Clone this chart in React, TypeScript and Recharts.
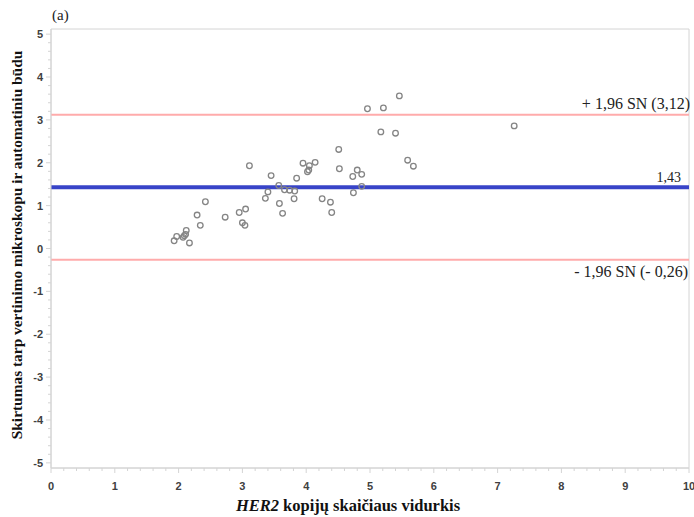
import { ScatterChart, Scatter, XAxis, YAxis, ReferenceLine, ReferenceArea } from "recharts";

const X_MAJOR = [0, 1, 2, 3, 4, 5, 6, 7, 8, 9, 10];
const Y_MAJOR = [-5, -4, -3, -2, -1, 0, 1, 2, 3, 4, 5];

const MEAN_DIFF = 1.43;
const UPPER_LOA = 3.12;
const LOWER_LOA = -0.26;

// HER2 copy number mean (x) vs. difference between methods (y)
const MEAN_X = [
  1.93, 1.97, 2.07, 2.09, 2.11, 2.12, 2.17, 2.29, 2.34, 2.42,
  2.73, 2.95, 3.05, 3.0, 3.04, 3.11, 3.36, 3.4, 3.45, 3.57,
  3.58, 3.63, 3.66, 3.74, 3.82, 3.81, 3.85, 3.95, 4.02, 4.04,
  4.05, 4.14, 4.25, 4.38, 4.4, 4.51, 4.52, 4.73, 4.74, 4.8,
  4.87, 4.87, 4.96, 5.21, 5.46, 5.17, 5.4, 5.59, 5.68, 7.26,
];
const DIFF_Y = [
  0.18, 0.28, 0.26, 0.3, 0.33, 0.42, 0.13, 0.78, 0.54, 1.09,
  0.73, 0.84, 0.92, 0.6, 0.54, 1.93, 1.17, 1.32, 1.7, 1.47,
  1.05, 0.82, 1.37, 1.36, 1.34, 1.16, 1.64, 1.99, 1.79, 1.83,
  1.93, 2.01, 1.16, 1.08, 0.84, 2.31, 1.86, 1.68, 1.3, 1.83,
  1.73, 1.45, 3.26, 3.28, 3.56, 2.72, 2.69, 2.06, 1.92, 2.86,
];

const points = MEAN_X.map((x, i) => ({ x, y: DIFF_Y[i] }));

// major ticks plus 0.2 minor steps
const withMinor = (major: number[]) =>
  major
    .slice(0, -1)
    .flatMap((v) => [0, 0.2, 0.4, 0.6, 0.8].map((s) => Math.round((v + s) * 10) / 10))
    .concat(major[major.length - 1]);

const X_TICKS = withMinor(X_MAJOR);
const Y_TICKS = withMinor(Y_MAJOR);

const AXIS = "#d4d4d4";
const TICK_FONT = { fontFamily: "Liberation Sans, Arial, sans-serif", fontSize: 11, fontWeight: 700, fill: "#404040" };
const SERIF = "Liberation Serif, Times New Roman, serif";

function XTick({ x, y, payload }: any) {
  const major = Number.isInteger(payload.value);
  return (
    <g>
      <line x1={x} x2={x} y1={y} y2={y + (major ? 5 : 3)} stroke={AXIS} />
      {major && (
        <text x={x} y={y + 22} textAnchor="middle" {...TICK_FONT}>
          {payload.value}
        </text>
      )}
    </g>
  );
}

function YTick({ x, y, payload }: any) {
  const major = Number.isInteger(payload.value);
  return (
    <g>
      <line x1={x} x2={x - (major ? 5 : 3)} y1={y} y2={y} stroke={AXIS} />
      {major && (
        <text x={x - 8} y={y + 4} textAnchor="end" {...TICK_FONT}>
          {payload.value}
        </text>
      )}
    </g>
  );
}

function LineLabel({ viewBox, text, dx = 0, dy = 0, size = 16 }: any) {
  if (!viewBox) return null;
  return (
    <text
      x={viewBox.x + viewBox.width + dx}
      y={viewBox.y + dy}
      textAnchor="end"
      fontFamily={SERIF}
      fontSize={size}
      fill="#222"
    >
      {text}
    </text>
  );
}

function Ring(props: any) {
  const { cx, cy } = props;
  return <circle cx={cx} cy={cy} r={2.8} fill="none" stroke="#858585" strokeWidth={1.3} />;
}

export default function App() {
  return (
    <div style={{ position: "absolute", left: 0, top: 0, width: 694, height: 517, background: "#fff" }}>
      <ScatterChart width={694} height={517} margin={{ top: 29, right: 5, bottom: 0, left: 0 }}>
        <XAxis
          type="number"
          dataKey="x"
          domain={[0, 10]}
          ticks={X_TICKS}
          interval={0}
          tick={<XTick />}
          tickLine={false}
          tickSize={0}
          tickMargin={0}
          axisLine={{ stroke: AXIS }}
          height={49}
        />
        <YAxis
          type="number"
          dataKey="y"
          domain={[-5.12, 5.12]}
          ticks={Y_TICKS}
          interval={0}
          tick={<YTick />}
          tickLine={false}
          tickSize={0}
          tickMargin={0}
          axisLine={{ stroke: AXIS }}
          width={51}
        />
        <ReferenceArea x1={0} x2={10} y1={-5.12} y2={5.12} fill="none" stroke={AXIS} strokeWidth={1} />
        <ReferenceLine
          y={UPPER_LOA}
          stroke="#ffabab"
          strokeWidth={2}
          label={<LineLabel text="+ 1,96 SN (3,12)" dx={1} dy={-6} />}
        />
        <ReferenceLine
          y={LOWER_LOA}
          stroke="#ffabab"
          strokeWidth={2}
          label={<LineLabel text="- 1,96 SN (- 0,26)" dx={-1} dy={17} />}
        />
        <ReferenceLine
          y={MEAN_DIFF}
          stroke="#3844c8"
          strokeWidth={4}
          label={<LineLabel text="1,43" dx={-8} dy={-5} size={14} />}
        />
        <Scatter data={points} shape={<Ring />} isAnimationActive={false} />
      </ScatterChart>
      <svg width={694} height={517} style={{ position: "absolute", left: 0, top: 0, pointerEvents: "none" }}>
        <text x={52} y={20} fontFamily={SERIF} fontSize={15} fill="#222">
          (a)
        </text>
        <text
          x={16}
          y={245}
          transform="rotate(-90 16 245)"
          textAnchor="middle"
          dominantBaseline="central"
          fontFamily={SERIF}
          fontSize={15.4}
          fontWeight={700}
          fill="#111"
        >
          Skirtumas tarp vertinimo mikroskopu ir automatiniu būdu
        </text>
        <text x={348} y={511} textAnchor="middle" fontFamily={SERIF} fontSize={16.5} fontWeight={700} fill="#111">
          <tspan fontStyle="italic">HER2</tspan> kopijų skaičiaus vidurkis
        </text>
      </svg>
    </div>
  );
}
